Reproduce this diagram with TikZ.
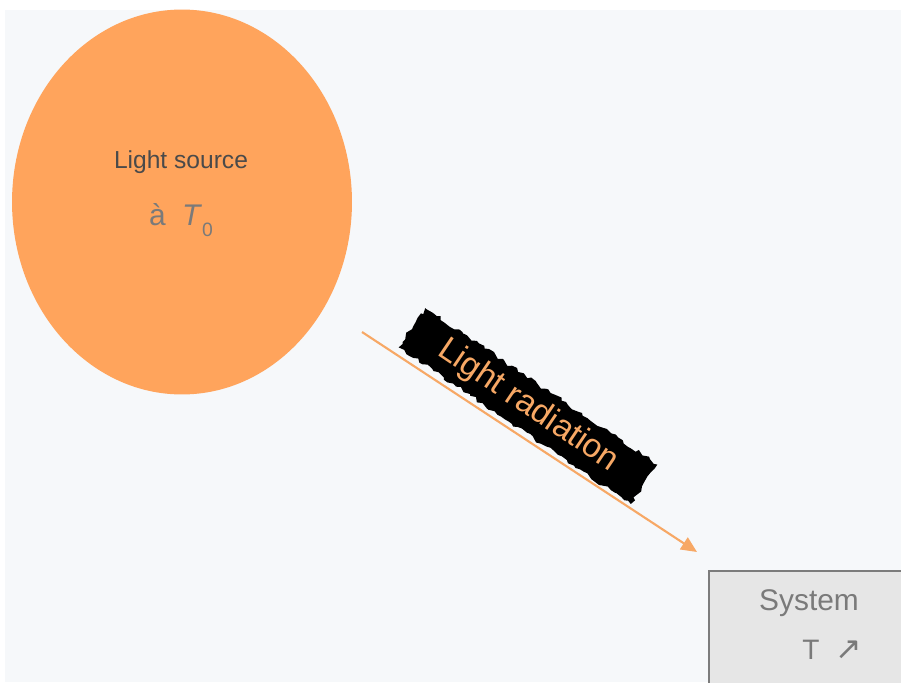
\documentclass[tikz,border=0pt]{standalone}
\usepackage{fontspec}
\setmainfont{Liberation Sans}
\newfontfamily\arrowfont{DejaVu Sans}
\usetikzlibrary{arrows.meta}
\usetikzlibrary{shapes}
\usetikzlibrary{decorations.pathmorphing}
\definecolor{paperGray}{HTML}{F6F8FA}
\definecolor{sunOrange}{HTML}{FFA45C}
\definecolor{rayOrange}{HTML}{F7A865}
\definecolor{inkGray}{HTML}{4A4A4A}
\definecolor{softGray}{HTML}{7A7A7A}
\definecolor{boxGray}{HTML}{E6E6E6}
\definecolor{edgeGray}{HTML}{7C7C7C}

\begin{document}
\begin{tikzpicture}[x = 0.02cm, y = -0.02cm]
\tikzstyle{SourceStyle} = [shape = ellipse, fill = sunOrange, minimum width = 6.8cm, minimum height = 7.7cm, inner sep = 0pt]
\tikzstyle{SourceTextStyle} = [text = inkGray, font = \fontsize{14}{16}\selectfont, inner sep = 1pt]
\tikzstyle{TempTextStyle} = [text = softGray, font = \fontsize{17}{19}\selectfont, inner sep = 1pt]
\tikzstyle{RayStyle} = [draw = rayOrange, line width = 1.2pt, -{Triangle[length = 9pt, width = 8pt]}]
\tikzstyle{RayLabelStyle} = [fill = black, text = rayOrange, rotate = -34, font = \fontsize{19}{21}\selectfont, inner xsep = 20pt, minimum height = 0.95cm, decorate, decoration = {random steps, segment length = 2.5pt, amplitude = 1.2pt}]
\tikzstyle{SystemStyle} = [shape = rectangle, draw = edgeGray, fill = boxGray, line width = 1pt, minimum width = 4.2cm, minimum height = 2.6cm, anchor = north west]
\tikzstyle{SystemTextStyle} = [text = softGray, inner sep = 1pt]
\clip (0,0) rectangle (901,682);
\fill[white] (0,0) rectangle (901,682);
\fill[paperGray] (5,10) rectangle (901,682);
% source
\node[SourceStyle] (src) at (182,202) {};
\node[SourceTextStyle] (srcName) at (181,162) {Light source};
\node[TempTextStyle] (srcTemp) at (181,220) {à\; \textit{T}\raisebox{-0.7ex}{\fontsize{11}{12}\selectfont 0}};
% ray
\coordinate (rayStart) at (362,332);
\coordinate (rayEnd) at (697,552);
\draw[RayStyle] (rayStart) -- (rayEnd);
\node[RayLabelStyle] (rayLabel) at (528,406) {Light radiation};
% system
\node[SystemStyle] (sys) at (708,570) {};
\node[SystemTextStyle, font = \fontsize{17}{19}\selectfont] (sysName) at (809,603) {System};
\node[SystemTextStyle, font = \fontsize{16}{18}\selectfont] (sysTemp) at (832,650) {T\; {\arrowfont\fontsize{18}{20}\selectfont ↗}};
\end{tikzpicture}
\end{document}
